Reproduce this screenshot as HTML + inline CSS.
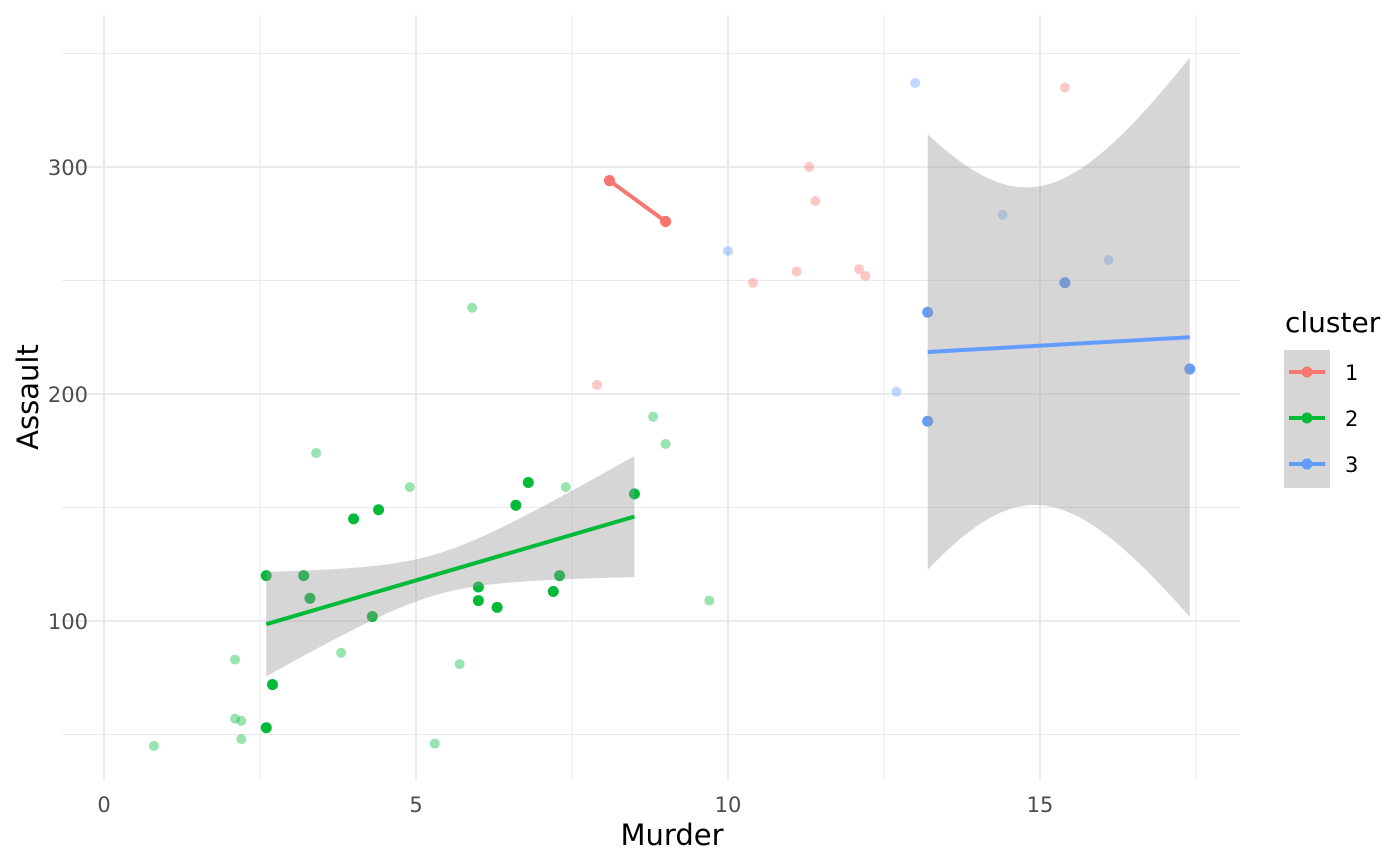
<!DOCTYPE html>
<html><head><meta charset="utf-8">
<style>
html,body{margin:0;padding:0;background:#fff;}
svg{display:block;font-family:"DejaVu Sans","Liberation Sans",sans-serif;}
</style></head>
<body>
<svg id="chart" width="1400" height="866"></svg>
<script>
// ---- data ----
const faintX = [7.9,10.4,11.1,11.3,11.4,12.1,12.2,15.4, 13.0,10.0,12.7,14.4,16.1, 0.8,2.1,2.1,2.2,2.2,3.4,3.8,4.9,5.3,5.7,5.9,7.4,8.8,9.0,9.7];
const faintY = [204,249,254,300,285,255,252,335, 337,263,201,279,259, 45,83,57,56,48,174,86,159,46,81,238,159,190,178,109];
const faintC = [1,1,1,1,1,1,1,1, 3,3,3,3,3, 2,2,2,2,2,2,2,2,2,2,2,2,2,2,2];
const solidX = [8.1,9.0, 13.2,13.2,15.4,17.4, 2.6,2.7,2.6,3.2,3.3,4.0,4.3,4.4,6.0,6.0,6.3,6.6,6.8,7.2,7.3,8.5];
const solidY = [294,276, 236,188,249,211, 120,72,53,120,110,145,102,149,115,109,106,151,161,113,120,156];
const solidC = [1,1, 3,3,3,3, 2,2,2,2,2,2,2,2,2,2,2,2,2,2,2,2];
// fit lines: [x0,y0,x1,y1]
const fit1 = [8.1,294,9.0,276];
const fit2 = [2.6,98.6,8.5,146];
const fit3 = [13.2,218.5,17.4,225];
// ribbon params: center, min half-width, curvature
const band2 = [5.3,9,61.5];
const band3 = [14.85,70,1580];
const xTicks = [0,5,10,15];
const yTicks = [100,200,300];
const xMinor = [2.5,7.5,12.5,17.5];
const yMinor = [50,150,250,350];
const colors = {1:"#F8766D",2:"#00BA38",3:"#619CFF"};

// ---- scales ----
const sx = v => 104 + v*62.4;
const sy = v => 621 - (v-100)*2.27;
const svg = document.getElementById('chart');
const NS = "http://www.w3.org/2000/svg";
function mk(tag, attrs, parent){const e=document.createElementNS(NS,tag);for(const k in attrs)e.setAttribute(k,attrs[k]);(parent||svg).appendChild(e);return e;}

// grid
xMinor.forEach(v=>{const l=mk('line',{x1:sx(v),x2:sx(v),y1:15,y2:780,stroke:'#ebebeb','stroke-width':1});

});
yMinor.forEach(v=>{const l=mk('line',{x1:62,x2:1240,y1:sy(v),y2:sy(v),stroke:'#ebebeb','stroke-width':1});

});
xTicks.forEach(v=>{const l=mk('line',{x1:sx(v),x2:sx(v),y1:15,y2:780,stroke:'#ebebeb','stroke-width':2});


const t=mk('text',{x:sx(v),y:812,'text-anchor':'middle','font-size':21,fill:'#4d4d4d'});t.textContent=v;

});
yTicks.forEach(v=>{const l=mk('line',{x1:62,x2:1240,y1:sy(v),y2:sy(v),stroke:'#ebebeb','stroke-width':2});


const t=mk('text',{x:88,y:sy(v)+8,'text-anchor':'end','font-size':21,fill:'#4d4d4d'});t.textContent=v;

});

// faint points
faintX.forEach((x,i)=>{const c=mk('circle',{cx:sx(x),cy:sy(faintY[i]),r:5,fill:colors[faintC[i]],'fill-opacity':0.4});

});

// solid points
solidX.forEach((x,i)=>{const c=mk('circle',{cx:sx(x),cy:sy(solidY[i]),r:5.5,fill:colors[solidC[i]]});

});

// ribbons (drawn over points, translucent)
function ribbon(fit, band, name){
  const [x0,y0,x1,y1]=fit;const [c,m,k]=band;
  const up=[],lo=[];
  for(let i=0;i<=60;i++){const x=x0+(x1-x0)*i/60;const y=y0+(y1-y0)*(x-x0)/(x1-x0);
    const hw=Math.sqrt(m*m+k*(x-c)*(x-c));up.push([sx(x),sy(y+hw)]);lo.push([sx(x),sy(y-hw)]);}
  const pts=up.concat(lo.reverse()).map(p=>p.join(',')).join(' ');
  const p=mk('polygon',{points:pts,fill:'#999999','fill-opacity':0.4});
  
  
}
ribbon(fit2,band2,'cluster-2-confidence-band');
ribbon(fit3,band3,'cluster-3-confidence-band');

// lines
[[fit1,1],[fit2,2],[fit3,3]].forEach(([f,c])=>{const l=mk('line',{x1:sx(f[0]),y1:sy(f[1]),x2:sx(f[2]),y2:sy(f[3]),stroke:colors[c],'stroke-width':4});

});
[[fit1[0],fit1[1]],[fit1[2],fit1[3]]].forEach(p=>{const c=mk('circle',{cx:sx(p[0]),cy:sy(p[1]),r:5.5,fill:colors[1]});

});

// axis titles
const xt=mk('text',{x:672,y:845,'text-anchor':'middle','font-size':29,fill:'#000'});xt.textContent='Murder';


const yt=mk('text',{x:0,y:0,'text-anchor':'middle','font-size':29,fill:'#000',transform:'translate(38,397) rotate(-90)'});yt.textContent='Assault';



// legend
const lt=mk('text',{x:1285,y:332,'font-size':28,fill:'#000'});lt.textContent='cluster';


const lb=mk('rect',{x:1284,y:350,width:46,height:138,fill:'#d6d6d6'});


[1,2,3].forEach((c,i)=>{const cy=372+i*46;
  const g=mk('g',{});
  
  
  mk('line',{x1:1289,x2:1325,y1:cy,y2:cy,stroke:colors[c],'stroke-width':4},g);
  mk('circle',{cx:1307,cy:cy,r:5.5,fill:colors[c]},g);
  const t=mk('text',{x:1345,y:cy+8,'font-size':21,fill:'#000'},g);t.textContent=c;});
</script>
</body></html>
